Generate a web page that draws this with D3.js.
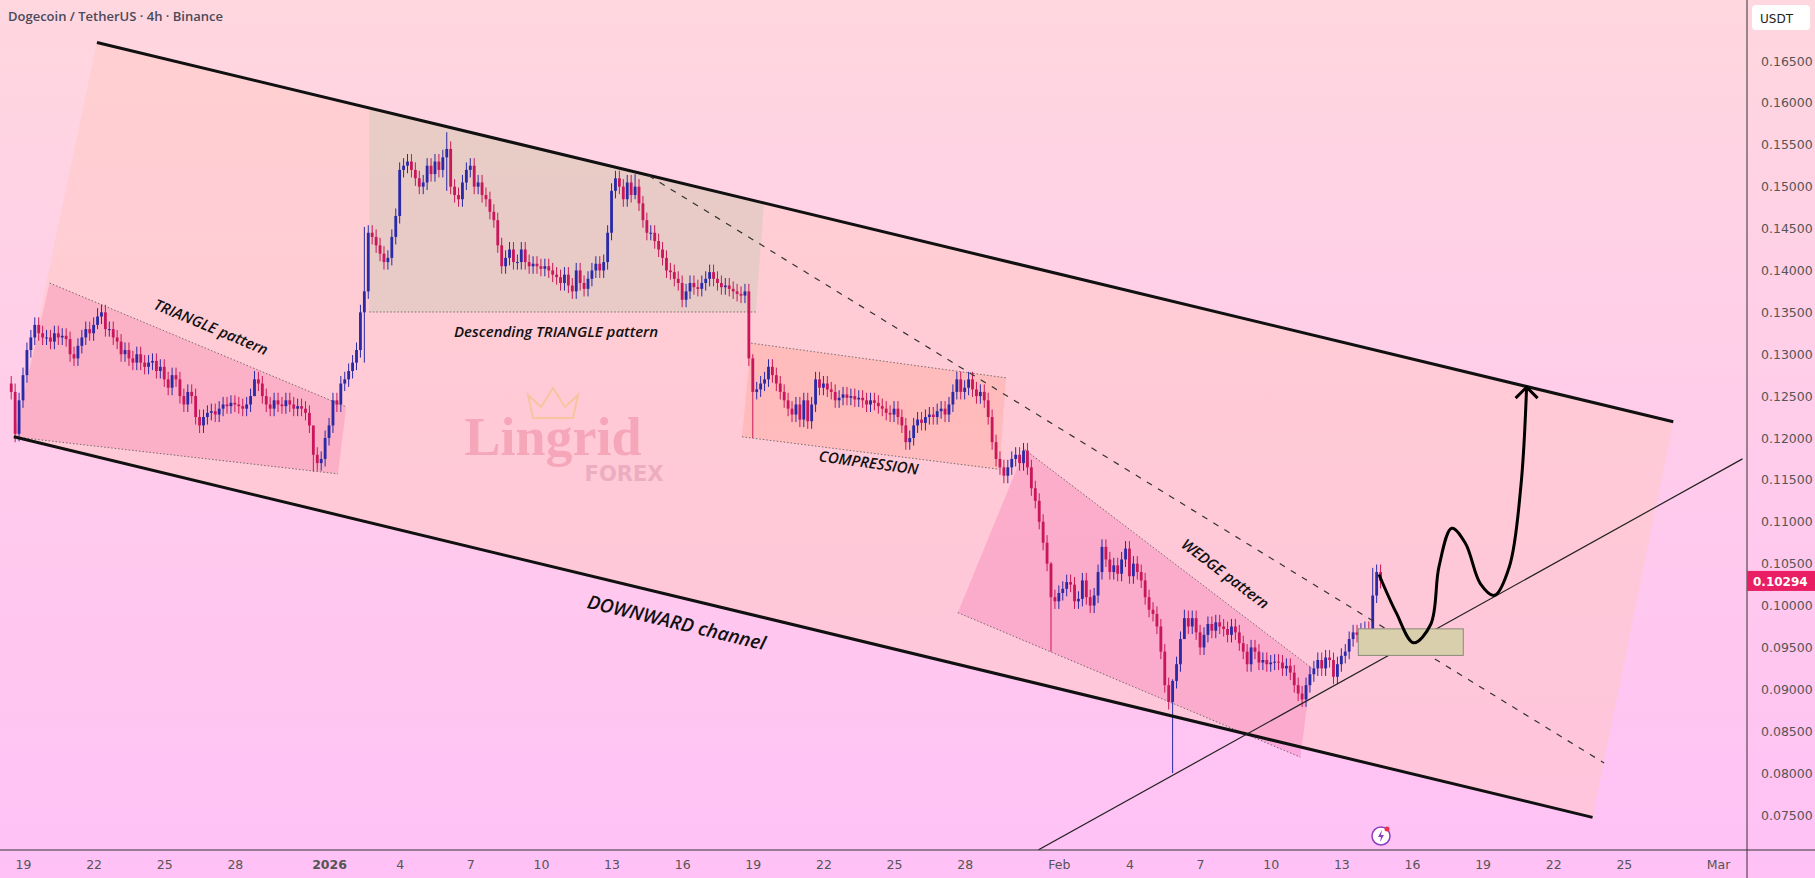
<!DOCTYPE html>
<html><head><meta charset="utf-8">
<script src="https://cdn.jsdelivr.net/npm/d3@7"></script>
<style>html,body{margin:0;padding:0;overflow:hidden}svg{display:block}</style>
</head><body>
<svg id="c" width="1815" height="878"></svg>
<script>
// ---- data ----
const startDay = -0.5;               // first candle: Dec 18 12:00 (days from Dec 19 2025)
const candleHours = 4;
const closes = [
0.1255,0.1205,0.1245,
0.1275,0.1305,0.1320,0.1335,0.1325,0.1320,
0.1320,0.1315,0.1325,0.1320,0.1322,0.1318,
0.1300,0.1295,0.1310,0.1320,0.1330,0.1325,
0.1335,0.1345,0.1350,0.1330,0.1330,0.1320,
0.1315,0.1300,0.1305,0.1295,0.1290,0.1300,
0.1290,0.1285,0.1290,0.1292,0.1280,0.1285,
0.1270,0.1260,0.1275,0.1270,0.1250,0.1240,
0.1255,0.1250,0.1225,0.1215,0.1225,0.1230,
0.1232,0.1228,0.1235,0.1240,0.1238,0.1242,
0.1240,0.1238,0.1235,0.1240,0.1250,0.1270,
0.1265,0.1250,0.1240,0.1235,0.1245,0.1240,
0.1238,0.1245,0.1240,0.1235,0.1238,0.1235,
0.1230,0.1215,0.1180,0.1170,0.1175,0.1200,
0.1215,0.1245,0.1240,0.1265,0.1270,0.1280,
0.1290,0.1305,0.1350,0.1375,0.1445,0.1440,
0.1430,0.1420,0.1410,0.1415,0.1440,0.1465,
0.1520,0.1525,0.1530,0.1520,0.1510,0.1500,
0.1505,0.1525,0.1515,0.1530,0.1520,0.1535,
0.1545,0.1500,0.1490,0.1485,0.1505,0.1520,
0.1525,0.1500,0.1505,0.1490,0.1485,0.1470,
0.1460,0.1430,0.1405,0.1415,0.1425,0.1410,
0.1410,0.1425,0.1410,0.1405,0.1408,0.1405,
0.1402,0.1405,0.1400,0.1395,0.1392,0.1385,
0.1395,0.1382,0.1375,0.1400,0.1385,0.1378,
0.1390,0.1400,0.1408,0.1400,0.1410,0.1445,
0.1495,0.1510,0.1500,0.1485,0.1505,0.1490,
0.1500,0.1480,0.1460,0.1445,0.1445,0.1435,
0.1425,0.1415,0.1400,0.1398,0.1390,0.1385,
0.1365,0.1375,0.1385,0.1380,0.1378,0.1385,
0.1390,0.1398,0.1390,0.1385,0.1380,0.1382,
0.1378,0.1375,0.1372,0.1370,0.1375,0.1295,
0.1255,0.1258,0.1265,0.1270,0.1285,0.1275,
0.1265,0.1255,0.1245,0.1235,0.1228,0.1240,
0.1222,0.1245,0.1220,0.1240,0.1270,0.1260,
0.1265,0.1258,0.1255,0.1245,0.1248,0.1252,
0.1248,0.1250,0.1246,0.1248,0.1245,0.1240,
0.1245,0.1242,0.1238,0.1235,0.1230,0.1228,
0.1235,0.1225,0.1215,0.1195,0.1200,0.1215,
0.1222,0.1218,0.1225,0.1228,0.1225,0.1232,
0.1235,0.1228,0.1240,0.1255,0.1270,0.1255,
0.1260,0.1270,0.1258,0.1250,0.1255,0.1245,
0.1225,0.1195,0.1175,0.1165,0.1155,0.1165,
0.1175,0.1180,0.1170,0.1185,0.1165,0.1140,
0.1125,0.1100,0.1075,0.1050,0.1010,0.1005,
0.1015,0.1020,0.1028,0.1025,0.1005,0.1008,
0.1030,0.1010,0.1000,0.1012,0.1040,0.1070,
0.1055,0.1040,0.1048,0.1038,0.1055,0.1068,
0.1035,0.1050,0.1040,0.1030,0.1010,0.0995,
0.0990,0.0975,0.0945,0.0905,0.0885,0.0910,
0.0930,0.0960,0.0985,0.0975,0.0985,0.0968,
0.0950,0.0965,0.0978,0.0970,0.0980,0.0975,
0.0972,0.0965,0.0975,0.0968,0.0955,0.0945,
0.0930,0.0950,0.0945,0.0932,0.0935,0.0930,
0.0932,0.0933,0.0932,0.0925,0.0928,0.0920,
0.0905,0.0895,0.0888,0.0905,0.0918,0.0925,
0.0935,0.0925,0.0938,0.0935,0.0915,0.0930,
0.0940,0.0945,0.0960,0.0968,0.0965,0.0970,
0.0972,0.0968,0.1012,0.1040,0.10294];
const firstOpen = 0.1265;
const defaultWick = 0.0009;
// notable wicks: [candle index, high, low]
const wicks = [[1,0.1265,0.1195],[189,0.1300,0.1200],[296,0.0912,0.0800],[265,0.1052,0.0945],
  [111,0.1565,0.1495],[159,0.1515,0.1485],[90,0.1452,0.1290],[77,0.1200,0.1160],[62,0.1280,0.1250],
  [22,0.1355,0.1330],[347,0.1045,0.1000],[299,0.0995,0.0970]];
const priceTicks = [0.075,0.08,0.085,0.09,0.095,0.1,0.105,0.11,0.115,0.12,0.125,0.13,0.135,0.14,0.145,0.15,0.155,0.16,0.165];
const timeTicks = [[0,"19"],[3,"22"],[6,"25"],[9,"28"],[13,"2026"],[16,"4"],[19,"7"],[22,"10"],[25,"13"],[28,"16"],[31,"19"],[34,"22"],[37,"25"],[40,"28"],[44,"Feb"],[47,"4"],[50,"7"],[53,"10"],[56,"13"],[59,"16"],[62,"19"],[65,"22"],[68,"25"],[72,"Mar"]];
// drawings in [days from Dec 19, price]
const channelTop = [[3.14,0.16721],[70.10,0.12193]];
const channelBottom = [[-0.39,0.12014],[66.67,0.07472]];
const trianglePoly = [[1.13,0.13850],[13.73,0.12372],[13.38,0.11572],[-0.39,0.12014]];
const descPoly = [[14.71,0.15948],[31.47,0.14788],[31.13,0.13504],[14.71,0.13504]];
const compPoly = [[30.93,0.13132],[41.76,0.12718],[41.47,0.11627],[30.54,0.12014]];
const wedgePoly = [[42.55,0.11862],[54.75,0.09253],[54.26,0.08190],[39.71,0.09915]];
const dashedLine = [[26.57,0.15133],[67.16,0.08121]];
const supportLine = [[43.14,0.07085],[73.04,0.11751]];
const zoneBox = [[56.72,0.09722],[61.18,0.09405]];
const projection = [[57.60,0.10371],[58.33,0.09915],[59.07,0.09556],[59.80,0.09777],[60.15,0.10467],[60.69,0.10923],[61.27,0.10744],[61.91,0.10260],[62.50,0.10122],[63.14,0.10467],[63.63,0.11434],[63.87,0.12607]];
const lastPrice = 0.10294;

// ---- scales ----
const svg = d3.select("#c");
const W=1815,H=878, plotR=1747, plotB=850;
const x = d3.scaleLinear().domain([0,72]).range([23,1718]);
const y = d3.scaleLinear().domain([0.075,0.165]).range([815,61]);
const P = d => [x(d[0]), y(d[1])];

const defs = svg.append("defs");
const g = defs.append("linearGradient").attr("id","bg").attr("x1",0).attr("y1",0).attr("x2",0).attr("y2",1);
g.append("stop").attr("offset","0%").attr("stop-color","#ffd7df");
g.append("stop").attr("offset","100%").attr("stop-color","#ffc1f6");
svg.append("rect").attr("width",W).attr("height",H).attr("fill","url(#bg)");

const clip = defs.append("clipPath").attr("id","pl");
clip.append("rect").attr("width",plotR).attr("height",plotB);
const pl = svg.append("g").attr("clip-path","url(#pl)");

const poly = (pts, fill) => pl.append("polygon").attr("points", pts.map(P).map(p=>p.join(",")).join(" ")).attr("fill",fill);
poly([channelTop[0],channelTop[1],channelBottom[1],channelBottom[0]], "rgba(255,200,190,0.45)");
poly(trianglePoly, "rgba(240,110,160,0.28)");
poly(descPoly, "rgba(190,200,175,0.35)");
poly(compPoly, "rgba(255,160,140,0.35)");
poly(wedgePoly, "rgba(240,100,170,0.28)");

const line = d3.line().x(d=>x(d[0])).y(d=>y(d[1]));
const dotted = (a,b) => pl.append("path").attr("d",line([a,b])).attr("stroke","#555").attr("stroke-width",1).attr("stroke-dasharray","1.5,2").attr("fill","none").attr("opacity",0.8);
dotted(trianglePoly[0],trianglePoly[1]); dotted(trianglePoly[3],trianglePoly[2]);
dotted(descPoly[3],descPoly[2]);
dotted(compPoly[0],compPoly[1]); dotted(compPoly[3],compPoly[2]);
dotted(wedgePoly[0],wedgePoly[1]); dotted(wedgePoly[3],wedgePoly[2]);

// watermark
const wm = pl.append("g");
wm.append("text").attr("x",553).attr("y",455).attr("text-anchor","middle").attr("font-family","Liberation Serif, serif").attr("font-weight","bold").attr("font-size",54).attr("fill","#f5a0b4").attr("opacity",0.85).text("Lingrid");
wm.append("text").attr("x",624).attr("y",481).attr("text-anchor","middle").attr("font-family","DejaVu Sans, sans-serif").attr("font-weight","bold").attr("font-size",21).attr("fill","#eaa9bc").attr("opacity",0.85).text("FOREX");
wm.append("path").attr("d","M533,418 L528,395 L541,407 L553,388 L565,407 L578,395 L573,418 Z").attr("fill","none").attr("stroke","#f3c07a").attr("stroke-width",2).attr("opacity",0.6);

// candles
const wickMap = new Map(wicks.map(w=>[w[0],w]));
const cw = x(candleHours/24)-x(0);
const cg = pl.append("g");
closes.forEach((c,i)=>{
  const o = i===0 ? firstOpen : closes[i-1];
  const t = startDay + i*candleHours/24;
  const w = wickMap.get(i);
  const hi = w ? w[1] : Math.max(o,c)+defaultWick;
  const lo = w ? w[2] : Math.min(o,c)-defaultWick;
  const col = c>=o ? "#2a2aa6" : "#c8175a";
  const cx = x(t);
  cg.append("line").attr("x1",cx).attr("x2",cx).attr("y1",y(hi)).attr("y2",y(lo)).attr("stroke",col).attr("stroke-width",1);
  const top=y(Math.max(o,c)), bot=y(Math.min(o,c));
  cg.append("rect").attr("x",cx-cw*0.36).attr("width",cw*0.72).attr("y",top).attr("height",Math.max(1,bot-top)).attr("fill",col);
});

// lines
pl.append("path").attr("d",line(channelTop)).attr("stroke","#111").attr("stroke-width",3).attr("fill","none");
pl.append("path").attr("d",line(channelBottom)).attr("stroke","#111").attr("stroke-width",3).attr("fill","none");
pl.append("path").attr("d",line(dashedLine)).attr("stroke","#333").attr("stroke-width",1.2).attr("stroke-dasharray","6,7").attr("fill","none");
pl.append("path").attr("d",line(supportLine)).attr("stroke","#222").attr("stroke-width",1.2).attr("fill","none");
const b0=P(zoneBox[0]), b1=P(zoneBox[1]);
pl.append("rect").attr("x",b0[0]).attr("y",b0[1]).attr("width",b1[0]-b0[0]).attr("height",b1[1]-b0[1]).attr("fill","#d9cfac").attr("stroke","#8a8a7a").attr("stroke-width",1);
pl.append("path").attr("d",d3.line().x(d=>x(d[0])).y(d=>y(d[1])).curve(d3.curveCatmullRom.alpha(0.5))(projection)).attr("stroke","#000").attr("stroke-width",3).attr("fill","none");
const tip=P(projection[projection.length-1]);
pl.append("path").attr("d",`M${tip[0]-11},${tip[1]+11} L${tip[0]},${tip[1]} L${tip[0]+11},${tip[1]+11}`).attr("stroke","#000").attr("stroke-width",3).attr("fill","none");

// labels
const lab = (txt, cx, cy, ang, size) => pl.append("text").attr("transform",`translate(${cx},${cy}) rotate(${ang})`).attr("text-anchor","middle").attr("font-family","Open Sans, sans-serif").attr("font-style","italic").attr("font-weight",600).attr("font-size",size).attr("fill","#111").text(txt);
lab("TRIANGLE pattern",209,332,22.6,15);
lab("Descending TRIANGLE pattern",556,337,0,15);
lab("COMPRESSION",868,468,7.7,15);
lab("WEDGE pattern",1222,578,37,15);
lab("DOWNWARD channel",675,629,13.5,19);

// icon
const ic = svg.append("g").attr("transform","translate(1381,836)");
ic.append("circle").attr("r",9).attr("fill","#fff").attr("stroke","#8a3fc0").attr("stroke-width",1.5);
ic.append("path").attr("d","M1,-6 L-3,1 L0,1 L-1,6 L3,-1 L0,-1 Z").attr("fill","#8a3fc0");
ic.append("circle").attr("cx",6).attr("cy",-7).attr("r",2.5).attr("fill","#f0304a");

// axes
svg.append("line").attr("x1",plotR).attr("x2",plotR).attr("y1",0).attr("y2",H).attr("stroke","#333");
svg.append("line").attr("x1",0).attr("x2",W).attr("y1",plotB).attr("y2",plotB).attr("stroke","#333");
const ya = svg.append("g").attr("transform",`translate(${plotR},0)`).call(d3.axisRight(y).tickValues(priceTicks).tickFormat(d3.format(".5f")).tickSize(0).tickPadding(14));
ya.select(".domain").remove();
ya.selectAll("text").attr("font-family","DejaVu Sans, sans-serif").attr("font-size",12.5).attr("fill","#555");
const xa = svg.append("g").attr("transform",`translate(0,${plotB})`).call(d3.axisBottom(x).tickValues(timeTicks.map(d=>d[0])).tickFormat((d,i)=>timeTicks[i][1]).tickSize(0).tickPadding(10));
xa.select(".domain").remove();
xa.selectAll("text").attr("font-family","DejaVu Sans, sans-serif").attr("font-size",12.5).attr("fill","#555").attr("font-weight",(d,i)=>timeTicks[i][1]==="2026"?"bold":"normal");

// USDT box
svg.append("rect").attr("x",1752).attr("y",5).attr("width",58).attr("height",25).attr("rx",4).attr("fill","#fff");
svg.append("text").attr("x",1760).attr("y",23).attr("font-family","DejaVu Sans, sans-serif").attr("font-size",12).attr("fill","#222").text("USDT");
// last price
svg.append("rect").attr("x",plotR).attr("y",y(lastPrice)-10).attr("width",W-plotR).attr("height",20).attr("fill","#e91e63");
svg.append("text").attr("x",plotR+6).attr("y",y(lastPrice)+5).attr("font-family","DejaVu Sans, sans-serif").attr("font-size",12).attr("fill","#fff").attr("font-weight","bold").text(d3.format(".5f")(lastPrice));
// title
svg.append("text").attr("x",8).attr("y",21).attr("font-family","Open Sans, sans-serif").attr("font-weight",600).attr("font-size",13).attr("fill","#4a4a5a").text("Dogecoin / TetherUS · 4h · Binance");
</script>
</body></html>
